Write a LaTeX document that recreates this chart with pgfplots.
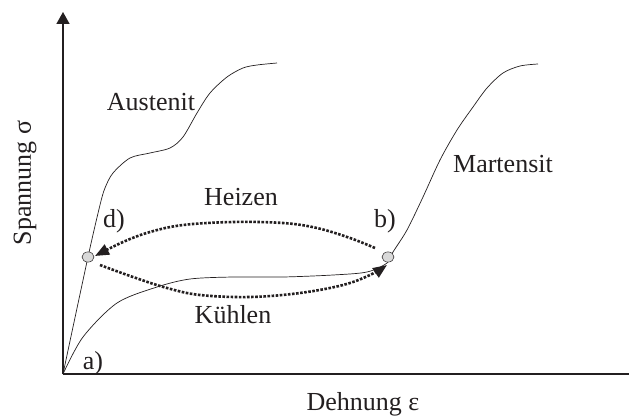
\documentclass[border=0pt]{standalone}
\usepackage{fontspec}
\setmainfont{Liberation Serif}
\usepackage{pgfplots}
\pgfplotsset{compat=1.18}
\usetikzlibrary{arrows.meta}
\definecolor{ink}{HTML}{231F20}
\definecolor{dotgray}{HTML}{D9D9D9}
\begin{document}
\begin{tikzpicture}[font=\fontsize{26}{31}\selectfont]
\useasboundingbox (-63pt,-44pt) rectangle (566pt,374pt);
\begin{axis}[at={(0pt,0pt)}, anchor=origin, x=1pt, y=1pt,
  xmin=0, xmax=570, ymin=0, ymax=362,
  axis x line=bottom, axis y line=left,
  x axis line style={-, line width=1.6pt, draw=ink},
  y axis line style={-{Triangle[length=12pt,width=13pt]}, line width=1.6pt, draw=ink},
  ticks=none, clip=false]
% Austenit
\addplot[ink, line width=0.7pt, smooth, tension=0.5] coordinates {
(0,0)(25,117)(37,169)(42,186)(50,201)(67,216)(87,221)(107,226)(120,237)(134,261)(147,281)(164,297)(180,306)(194,309)(214,311)};
% Martensit
\addplot[ink, line width=0.7pt, smooth, tension=0.5] coordinates {
(0,0)(20,37)(54,71)(94,87)(127,95)(170,97)(220,97)(270,99)(304,102)(324,111)(330,122)(344,144)(360,177)(377,214)(394,244)(410,267)(424,286)(440,301)(457,308)(475,310)};
% Heizen
\addplot[ink, line width=2.6pt, dash pattern=on 2.6pt off 1.5pt, smooth, tension=0.6,
  -{Triangle[length=14pt,width=11pt]}] coordinates {
(312,126)(287,136)(254,146)(220,151)(170,152)(120,149)(87,142)(60,132)(32,118)};
% Kuehlen
\addplot[ink, line width=2.6pt, dash pattern=on 2.6pt off 1.5pt, smooth, tension=0.6,
  -{Triangle[length=14pt,width=11pt]}] coordinates {
(37,109)(70,97)(104,86)(137,79)(187,77)(237,81)(280,89)(307,99)(324,109)};
% points
\addplot[only marks, mark=*, mark size=6pt, mark options={yscale=0.85, fill=dotgray, draw=ink, line width=0.5pt}] coordinates {(25,117)(325,117)};
\node[ink] at (axis cs:88,272) {Austenit};
\node[ink] at (axis cs:440,210) {Martensit};
\node[ink] at (axis cs:178,177) {Heizen};
\node[ink] at (axis cs:170,59) {Kühlen};
\node[ink] at (axis cs:51,153) {d)};
\node[ink] at (axis cs:322,153) {b)};
\node[ink] at (axis cs:30,11) {a)};
\node[ink, rotate=90] at (axis cs:-38,191) {Spannung σ};
\node[ink] at (axis cs:300,-30) {Dehnung ε};
\end{axis}
\end{tikzpicture}
\end{document}
